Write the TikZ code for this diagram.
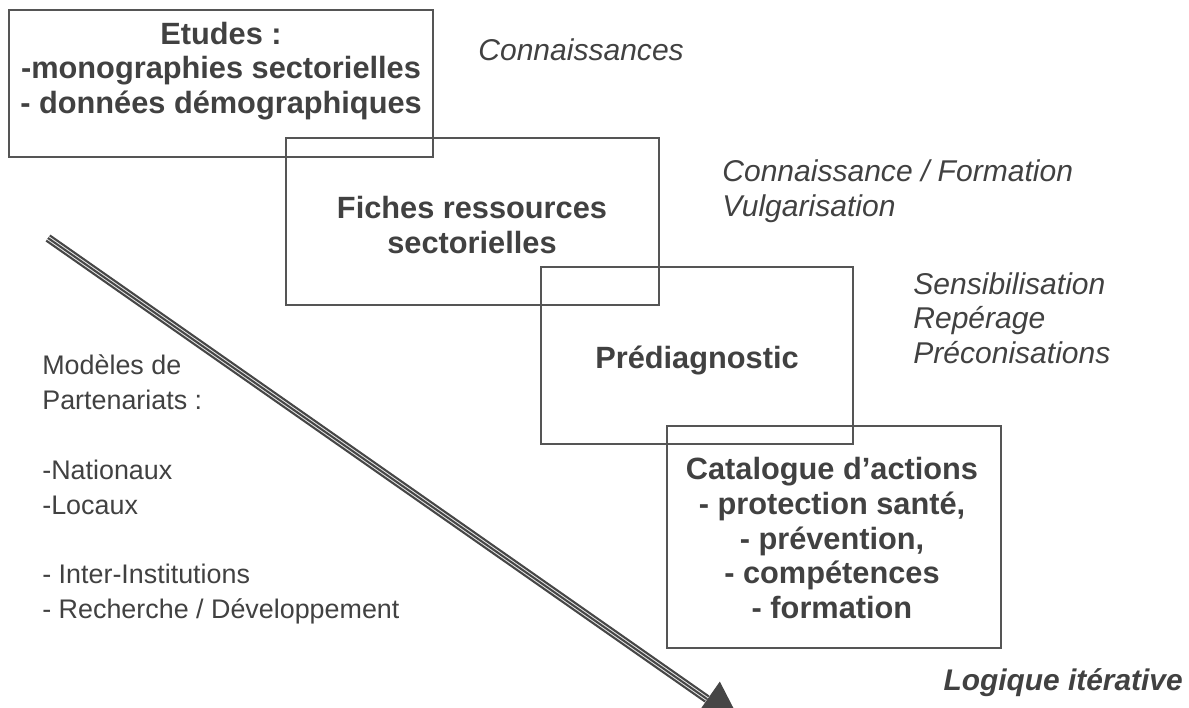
\documentclass[tikz,border=0pt]{standalone}
\usepackage{fontspec}
\setmainfont{Liberation Sans}
\usetikzlibrary{positioning,arrows.meta}
\definecolor{box_out}{RGB}{85, 85, 85}
\definecolor{txt_gray}{RGB}{65, 65, 65}
\definecolor{arrow_gray}{RGB}{70, 70, 70}
\newcommand\px{0.02cm}
\tikzset{boite/.style = {rectangle, draw=box_out, line width=1.4*\px, inner sep=0pt}}
\tikzset{titre/.style = {align=center, text=txt_gray, inner sep=0pt, font=\bfseries\fontsize{17.5}{19.7}\selectfont}}
\tikzset{note/.style = {align=left, text=txt_gray, inner sep=0pt, font=\itshape\fontsize{17.1}{19.7}\selectfont}}
\tikzset{liste/.style = {align=left, text=txt_gray, inner sep=0pt, font=\fontsize{15.3}{19.9}\selectfont}}
\tikzset{mypath/.style = {draw=arrow_gray, line width=2.2*\px, double=white!80!gray, double distance=4*\px}}

\begin{document}
\begin{tikzpicture}[x=\px, y=-\px]
\useasboundingbox (0,0) rectangle (1189,707);

\node[boite, minimum width=424*\px, minimum height=147*\px] (etudes) at (221,83.5) {};
\node[boite, minimum width=373*\px, minimum height=167*\px] (fiches) at (472.5,221.5) {};
\node[boite, minimum width=312*\px, minimum height=177*\px] (prediag) at (697,355.5) {};
\node[boite, minimum width=334*\px, minimum height=222*\px] (catalogue) at (834,537) {};

\node[titre] (etudes_t) at (221,71) {Etudes :\\-monographies sectorielles\\- données démographiques};
\node[titre] (fiches_t) at (472,225) {Fiches ressources\\sectorielles};
\node[titre] (prediag_t) at (697,360) {Prédiagnostic};
\node[titre] (catalogue_t) at (832,538) {Catalogue d’actions\\- protection santé,\\- prévention,\\- compétences\\- formation};

\node[note, anchor=west] (connais) at (478,50) {Connaissances};
\node[note, anchor=west] (formation) at (722,191) {Connaissance / Formation\\Vulgarisation};
\node[note, anchor=west] (sensib) at (913,318) {Sensibilisation\\Repérage\\Préconisations};
\node[note, anchor=east, font=\bfseries\itshape\fontsize{17}{19.7}\selectfont] (logique) at (1183,683) {Logique itérative};

\node[liste, anchor=north west] (modeles) at (42,354) {Modèles de\\Partenariats :\\[19.9pt]-Nationaux\\-Locaux\\[19.9pt]- Inter-Institutions\\- Recherche / Développement};

% fleche triple
\coordinate (debut) at (48,238);
\coordinate (base) at (707,699);
\coordinate (fin) at (741,722.8);
\path[mypath] (debut) -- (base);
\draw[arrow_gray, line width=2*\px] (debut) -- (base);
\draw[arrow_gray, line width=1*\px, -{Triangle[length=0.82cm,width=0.86cm]}] (base) -- (fin);
\end{tikzpicture}
\end{document}
